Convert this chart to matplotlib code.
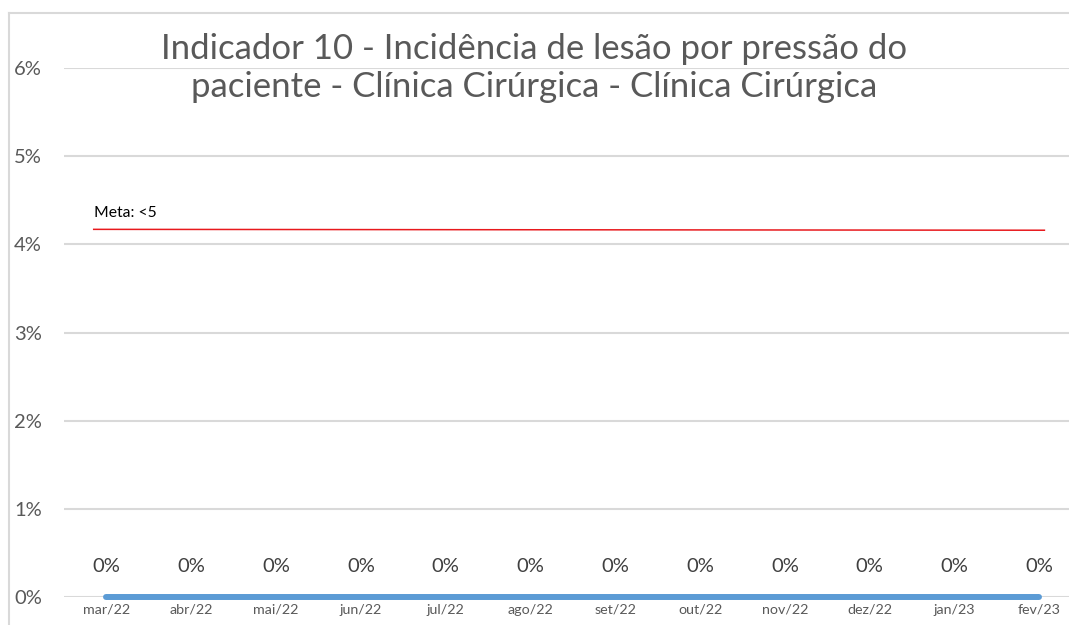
import matplotlib.pyplot as plt
from matplotlib.lines import Line2D

plt.rcParams['font.family'] = ['Lato', 'DejaVu Sans']

meses = ['mar/22', 'abr/22', 'mai/22', 'jun/22', 'jul/22', 'ago/22',
         'set/22', 'out/22', 'nov/22', 'dez/22', 'jan/23', 'fev/23']
incidencia = [0, 0, 0, 0, 0, 0, 0, 0, 0, 0, 0, 0]
meta_x = [-0.15, 11.06]
meta_y = [0.0417, 0.0416]
yticks = [0, 0.01, 0.02, 0.03, 0.04, 0.05, 0.06]
titulo = 'Indicador 10 - Incidência de lesão por pressão do\npaciente - Clínica Cirúrgica - Clínica Cirúrgica'

fig = plt.figure(figsize=(10.69, 6.25), dpi=100)
ax = fig.add_axes([0.0599, 0.0448, 0.952, 0.8464])

x = list(range(len(meses)))
ax.plot(x, incidencia, color='#5b9bd5', linewidth=4.3, solid_capstyle='round', zorder=3, clip_on=False)
for xi, v in zip(x, incidencia):
    ax.annotate(f'{v:.0%}', (xi, v), xytext=(0, 22), textcoords='offset points',
                ha='center', va='center', fontsize=14.5, color='#404040')

ax.plot(meta_x, meta_y, color='#e8191d', linewidth=1.1, zorder=2)
ax.text(meta_x[0], meta_y[0] + 0.0011, 'Meta: <5', fontsize=11.3, color='black', va='bottom', ha='left')

ax.set_xlim(-0.5, len(meses) - 0.5)
ax.set_ylim(0, 0.06)
ax.set_yticks(yticks)
ax.set_yticklabels([f'{t:.0%}' for t in yticks])
ax.set_xticks(x)
ax.set_xticklabels(meses)
ax.grid(axis='y', color='#d9d9d9', linewidth=1.5, zorder=0)
ax.set_axisbelow(True)
for s in ax.spines.values():
    s.set_visible(False)
ax.tick_params(axis='y', length=0, pad=16, labelsize=14.5, labelcolor='#595959')
ax.tick_params(axis='x', length=0, pad=5, labelsize=10.3, labelcolor='#595959')

fig.text(0.5, 0.891, titulo, ha='center', va='center', fontsize=25, color='#595959', linespacing=1.24)

# moldura do gráfico (só topo e esquerda aparecem no recorte)
fig.add_artist(Line2D([9 / 1069, 1.01], [1 - 13 / 625] * 2, color='#d9d9d9', linewidth=1.5))
fig.add_artist(Line2D([9 / 1069] * 2, [-0.01, 1 - 13 / 625], color='#d9d9d9', linewidth=1.5))

fig.savefig('out.png', dpi=100)
